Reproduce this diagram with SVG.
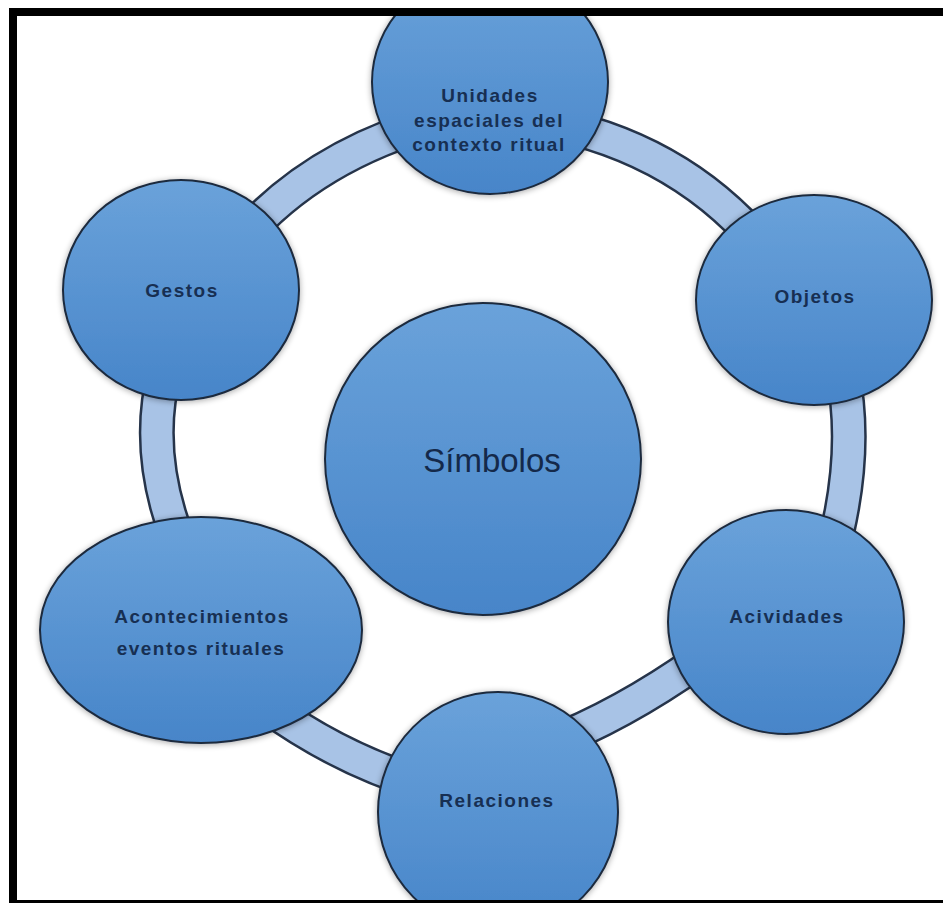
<svg xmlns="http://www.w3.org/2000/svg" width="943" height="903" viewBox="0 0 943 903">
  <defs>
    <linearGradient id="nodeFill" x1="0" y1="0" x2="0" y2="1">
      <stop offset="0" stop-color="#6aa2da"/>
      <stop offset="1" stop-color="#4785c9"/>
    </linearGradient>
    <filter id="soft" x="-20%" y="-20%" width="140%" height="140%">
      <feGaussianBlur in="SourceAlpha" stdDeviation="3"/>
      <feOffset dx="0" dy="1" result="b"/>
      <feComponentTransfer><feFuncA type="linear" slope="0.35"/></feComponentTransfer>
      <feMerge><feMergeNode/><feMergeNode in="SourceGraphic"/></feMerge>
    </filter>
    <clipPath id="inside">
      <rect x="17" y="16" width="926" height="884"/>
    </clipPath>
  </defs>
  <style>
    .band-edge { fill: none; stroke: #26344a; stroke-width: 36; }
    .band-fill { fill: none; stroke: #a8c3e6; stroke-width: 31; }
    .node { fill: url(#nodeFill); stroke: #1c2a3e; stroke-width: 2; filter: url(#soft); }
    .lbl { font-family: "Liberation Sans", Arial, sans-serif; font-weight: bold; font-size: 19px; letter-spacing: 1.5px; fill: #172f52; text-anchor: middle; }
    .big { font-family: "Liberation Sans", Arial, sans-serif; font-size: 33px; fill: #14294a; text-anchor: middle; }
  </style>

  <rect width="943" height="903" fill="#ffffff"/>

  <g clip-path="url(#inside)">
    <!-- ring segments joining the outer nodes -->
    <g id="connectors">
      <path class="band-edge" d="M223,262 Q298,159 440,120"/>
      <path class="band-fill" d="M223,262 Q298,159 440,120"/>
      <path class="band-edge" d="M520,118 Q682,140 775,262"/>
      <path class="band-fill" d="M520,118 Q682,140 775,262"/>
      <path class="band-edge" d="M842,370 Q860,455 830,560"/>
      <path class="band-fill" d="M842,370 Q860,455 830,560"/>
      <path class="band-edge" d="M165,370 Q143,452 180,545"/>
      <path class="band-fill" d="M165,370 Q143,452 180,545"/>
      <path class="band-edge" d="M265,705 Q339,759 425,785"/>
      <path class="band-fill" d="M265,705 Q339,759 425,785"/>
      <path class="band-edge" d="M545,745 Q621,716 700,660"/>
      <path class="band-fill" d="M545,745 Q621,716 700,660"/>
    </g>

    <g id="unidades">
      <ellipse class="node" cx="490" cy="82" rx="118" ry="112"/>
      <text class="lbl" x="490" y="102">Unidades</text>
      <text class="lbl" x="489" y="127">espaciales del</text>
      <text class="lbl" x="489" y="151">contexto ritual</text>
    </g>

    <g id="objetos">
      <ellipse class="node" cx="814" cy="300" rx="118" ry="105"/>
      <text class="lbl" x="815" y="303">Objetos</text>
    </g>

    <g id="acividades">
      <ellipse class="node" cx="786" cy="622" rx="118" ry="112"/>
      <text class="lbl" x="787" y="623">Acividades</text>
    </g>

    <g id="relaciones">
      <ellipse class="node" cx="498" cy="812" rx="120" ry="120"/>
      <text class="lbl" x="497" y="807">Relaciones</text>
    </g>

    <g id="acontecimientos">
      <ellipse class="node" cx="201" cy="630" rx="161" ry="113"/>
      <text class="lbl" x="202" y="623">Acontecimientos</text>
      <text class="lbl" x="201" y="655">eventos rituales</text>
    </g>

    <g id="gestos">
      <ellipse class="node" cx="181" cy="290" rx="118" ry="110"/>
      <text class="lbl" x="182" y="297">Gestos</text>
    </g>

    <g id="simbolos">
      <ellipse class="node" cx="483" cy="459" rx="158" ry="156"/>
      <text class="big" x="492" y="472">Símbolos</text>
    </g>
  </g>

  <!-- black frame: top, left and bottom edges -->
  <g id="frame" fill="#000000">
    <rect x="9" y="8" width="934" height="8"/>
    <rect x="9" y="8" width="8" height="895"/>
    <rect x="9" y="900" width="934" height="3"/>
  </g>
</svg>
